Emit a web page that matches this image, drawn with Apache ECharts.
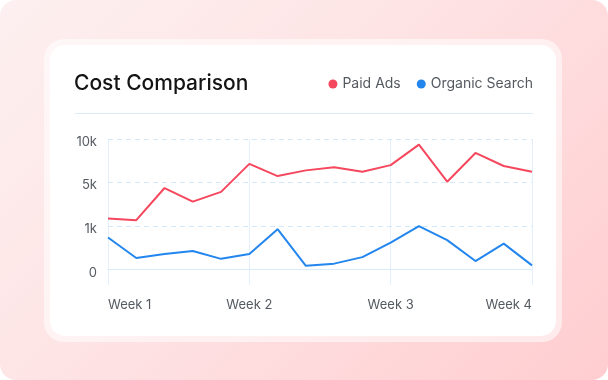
<!DOCTYPE html>
<html>
<head>
<meta charset="utf-8">
<script src="https://cdn.jsdelivr.net/npm/echarts@6/dist/echarts.min.js"></script>
<style>
  html, body { margin: 0; padding: 0; background: #ffffff; }
  #bg { position: absolute; left: 0; top: 0; width: 608px; height: 380px; border-radius: 16px;
        background: linear-gradient(135deg, #fdf0f0 0%, #fee3e4 45%, #ffcdd0 100%); }
  #ring { position: absolute; left: 44px; top: 39px; width: 518px; height: 303px; border-radius: 20px;
          background: rgba(255,255,255,0.55); }
  #card { position: absolute; left: 50px; top: 45px; width: 506px; height: 291px; border-radius: 15px;
          background: #ffffff; }
  #chart { position: absolute; left: 0; top: 0; width: 608px; height: 380px; }
</style>
</head>
<body>
<div id="bg"></div>
<div id="ring"></div>
<div id="card"></div>
<div id="chart"></div>
<script>
// ---- data ----
const weekLabels = ['Week 1', 'Week 2', 'Week 3', 'Week 4'];
const yTickLabels = ['0', '1k', '5k', '10k'];
const yTickValues = [0, 1000, 5000, 10000];
const paidAds = [1700, 1550, 4500, 3250, 4150, 7150, 5750, 6400, 6750, 6250, 7000, 9350, 5100, 8400, 6900, 6250];
const organicSearch = [740, 270, 360, 430, 250, 360, 930, 90, 140, 290, 620, 1000, 680, 200, 600, 100];
const pointsPerWeekStep = 5; // week labels fall on every 5th sample

// piecewise scale: tick values are equally spaced on the axis
function toLevel(v) {
  for (let i = 1; i < yTickValues.length; i++) {
    if (v <= yTickValues[i]) {
      return (i - 1) + (v - yTickValues[i - 1]) / (yTickValues[i] - yTickValues[i - 1]);
    }
  }
  return yTickValues.length - 1;
}
const toPairs = arr => arr.map((v, i) => [i, toLevel(v)]);

const chart = echarts.init(document.getElementById('chart'), null, { renderer: 'canvas' });
const FONT = 'Inter, "Noto Sans", sans-serif';

chart.setOption({
  animation: false,
  backgroundColor: 'transparent',
  title: {
    text: 'Cost Comparison',
    left: 69, top: 68,
    textStyle: { fontFamily: FONT, fontSize: 21, fontWeight: 500, color: '#141414' }
  },
  legend: {
    right: 70, top: 72,
    icon: 'circle', itemWidth: 9, itemHeight: 9, itemGap: 16,
    textStyle: { fontFamily: FONT, fontSize: 14, color: '#555a60' },
    data: ['Paid Ads', 'Organic Search']
  },
  graphic: [{
    type: 'line', silent: true,
    shape: { x1: 75, y1: 113.5, x2: 533, y2: 113.5 },
    style: { stroke: '#dcebf6', lineWidth: 1 }
  }],
  grid: { left: 108, right: 76, top: 139, bottom: 95 },
  xAxis: {
    type: 'value', min: 0, max: paidAds.length - 1, interval: pointsPerWeekStep,
    axisLine: { show: true, lineStyle: { color: '#d9ecfb', width: 1 } },
    axisTick: { show: false },
    splitLine: { show: true, lineStyle: { color: '#e1f0fc', width: 1 } },
    axisLabel: {
      margin: 14, fontFamily: FONT, fontSize: 13, color: '#555a60',
      alignMinLabel: 'left', alignMaxLabel: 'right',
      formatter: v => weekLabels[Math.round(v / pointsPerWeekStep)] || ''
    }
  },
  yAxis: {
    type: 'value', min: -0.35, max: yTickValues.length - 1,
    axisLine: { show: false }, axisTick: { show: false },
    splitLine: { show: false },
    axisLabel: {
      margin: 11, fontFamily: FONT, fontSize: 13, color: '#555a60',
      customValues: yTickValues.map((v, i) => i),
      formatter: v => '{t|' + yTickLabels[Math.round(v)] + '}',
      rich: { t: { fontFamily: FONT, fontSize: 13, color: '#555a60', padding: [6, 0, 0, 0] } }
    }
  },
  series: [
    {
      name: 'Paid Ads', type: 'line', data: toPairs(paidAds),
      symbol: 'none', lineStyle: { color: '#f5475d', width: 2 }, itemStyle: { color: '#f5475d' },
      z: 3,
      markLine: {
        silent: true, symbol: ['none', 'none'], label: { show: false },
        lineStyle: { type: [5, 4], color: '#d3e9fb', width: 1 },
        data: [{ yAxis: 1 }, { yAxis: 2 }, { yAxis: 3 }],
        z: 1
      }
    },
    {
      name: 'Organic Search', type: 'line', data: toPairs(organicSearch),
      symbol: 'none', lineStyle: { color: '#2386ee', width: 2 }, itemStyle: { color: '#2386ee' },
      z: 3
    }
  ]
});
</script>
</body>
</html>
